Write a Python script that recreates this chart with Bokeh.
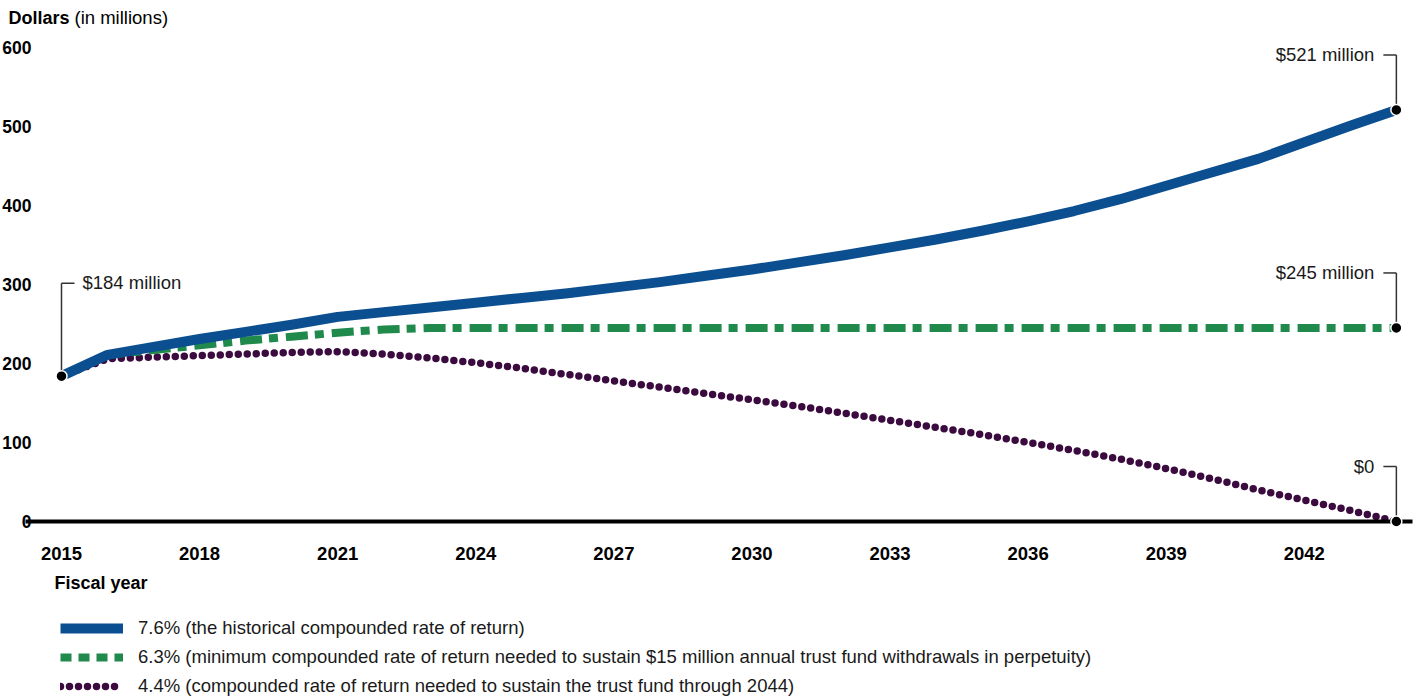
import numpy as np
from bokeh.plotting import figure
from bokeh.models import LinearAxis, FixedTicker, Range1d, Legend, LegendItem
from bokeh.core.properties import value
from bokeh.embed import file_html
from bokeh.resources import INLINE

# ---------------- data ----------------
years = [2015, 2016, 2017, 2018, 2019, 2020, 2021, 2022, 2023, 2024,
         2025, 2026, 2027, 2028, 2029, 2030, 2031, 2032, 2033, 2034,
         2035, 2036, 2037, 2038, 2039, 2040, 2041, 2042, 2043, 2044]
rate_76 = [184, 211, 221, 231, 240, 249, 259, 265, 271, 277,
           283, 289, 296, 303, 311, 319, 328, 337, 347, 357,
           368, 380, 393, 408, 425, 442, 459, 480, 501, 521]
rate_63 = [184, 211, 217, 223, 229, 234, 239, 243, 245, 245,
           245, 245, 245, 245, 245, 245, 245, 245, 245, 245,
           245, 245, 245, 245, 245, 245, 245, 245, 245, 245]
rate_44 = [184, 206, 208, 210, 212, 214, 215, 212, 207, 201,
           194, 186, 178, 170, 162, 154, 146, 137, 128, 119,
           110, 100, 90, 79, 67, 54, 40, 27, 14, 0]
x_ticks = [2015, 2018, 2021, 2024, 2027, 2030, 2033, 2036, 2039, 2042]
y_ticks = [0, 100, 200, 300, 400, 500, 600]
series_labels = [
    "7.6% (the historical compounded rate of return)",
    "6.3% (minimum compounded rate of return needed to sustain $15 million annual trust fund withdrawals in perpetuity)",
    "4.4% (compounded rate of return needed to sustain the trust fund through 2044)",
]
start_text = "$184 million"
end_texts = ["$521 million", "$245 million", "$0"]

# ---------------- styling / geometry ----------------
BLUE = "#0B4F91"
GREEN = "#1F8A4C"
PURPLE = "#3B0A3F"
FONT = value("Liberation Sans")
W, H = 1421, 698
PX_YR = 46.03
PX_M = 0.79
x_start = years[0] - 61 / PX_YR
x_end = x_start + W / PX_YR
y_end = 521 / PX_M
y_start = y_end - H / PX_M

p = figure(width=W, height=H, output_backend="svg", toolbar_location=None,
           x_axis_location=None, y_axis_location=None, min_border=0,
           x_range=Range1d(x_start, x_end), y_range=Range1d(y_start, y_end))
p.outline_line_color = None
p.background_fill_color = "white"
p.border_fill_color = "white"
p.grid.visible = False
p.xgrid.visible = False
p.ygrid.visible = False

# axes (fixed inside the frame)
xaxis = LinearAxis(fixed_location=0, ticker=FixedTicker(ticks=x_ticks),
                   bounds=(years[0] - 36 / PX_YR, years[-1] + 16 / PX_YR))
xaxis.axis_line_color = "black"
xaxis.axis_line_width = 4
xaxis.major_tick_line_color = None
xaxis.minor_tick_line_color = None
xaxis.major_label_standoff = 19
xaxis.major_label_text_font = "Liberation Sans"
xaxis.major_label_text_font_style = "bold"
xaxis.major_label_text_font_size = "18.5px"
xaxis.major_label_text_color = "black"
p.add_layout(xaxis, "below")

yaxis = LinearAxis(fixed_location=years[0] - 21 / PX_YR, ticker=FixedTicker(ticks=y_ticks))
yaxis.axis_line_color = None
yaxis.major_tick_line_color = None
yaxis.minor_tick_line_color = None
yaxis.major_label_standoff = 3
yaxis.major_label_text_font = "Liberation Sans"
yaxis.major_label_text_font_style = "bold"
yaxis.major_label_text_font_size = "17.5px"
yaxis.major_label_text_color = "black"
p.add_layout(yaxis, "left")

# series
r44 = p.line(years, rate_44, line_color=PURPLE, line_width=7.5, line_dash="0 9", line_cap="round")
r63 = p.line(years, rate_63, line_color=GREEN, line_width=8, line_dash="22 7 9 8")
r76 = p.line(years, rate_76, line_color=BLUE, line_width=10, line_join="round")

# legend-only glyph for the dashed series
r63_leg = p.line([np.nan], [np.nan], line_color=GREEN, line_width=8, line_dash="11 7")

# leader lines
lx0, ly0, lx1, ly1 = [], [], [], []
top = rate_76[0] + 93 / PX_M
lx0 += [years[0], years[0]]; ly0 += [rate_76[0], top]
lx1 += [years[0], years[0] + 13 / PX_YR]; ly1 += [top, top]
end_vals = [rate_76[-1], rate_63[-1], rate_44[-1]]
for v in end_vals:
    t = v + 55 / PX_M
    lx0 += [years[-1], years[-1] - 13 / PX_YR]; ly0 += [v, t]
    lx1 += [years[-1], years[-1]]; ly1 += [t, t]
p.segment(lx0, ly0, lx1, ly1, line_color="#333333", line_width=1.5)

dots = p.scatter([years[0]] + [years[-1]] * 3, [rate_76[0]] + end_vals, size=11,
                 fill_color="black", line_color="white", line_width=1.5)
dots.level = "overlay"

# annotation texts
p.text([years[0]], [rate_76[0]], text=[start_text], x_offset=21, y_offset=-94,
       text_font=FONT, text_font_size="18.5px", text_align="left", text_baseline="middle",
       text_color="#1a1a1a")
p.text([years[-1]] * 3, end_vals, text=end_texts, x_offset=-22, y_offset=-55,
       text_font=FONT, text_font_size="18.5px", text_align="right", text_baseline="middle",
       text_color="#1a1a1a")

# titles
p.text([x_start], [y_ticks[-1]], text=["Dollars"], x_offset=8, y_offset=-30, text_font=FONT,
       text_font_size="18px", text_font_style="bold", text_align="left",
       text_baseline="middle", text_color="black")
p.text([x_start], [y_ticks[-1]], text=["(in millions)"], x_offset=74, y_offset=-30,
       text_font=FONT, text_font_size="18.5px", text_align="left",
       text_baseline="middle", text_color="black")
p.text([years[0]], [0], text=["Fiscal year"], x_offset=-7, y_offset=61, text_font=FONT,
       text_font_size="18px", text_font_style="bold", text_align="left",
       text_baseline="middle", text_color="black")

legend = Legend(items=[LegendItem(label=series_labels[0], renderers=[r76]),
                       LegendItem(label=series_labels[1], renderers=[r63_leg]),
                       LegendItem(label=series_labels[2], renderers=[r44])],
                location=(60, 1), orientation="vertical", glyph_width=63, glyph_height=22,
                label_height=22, label_standoff=15, spacing=7, padding=0, margin=0,
                border_line_color=None, background_fill_alpha=0,
                label_text_font="Liberation Sans", label_text_font_size="18.5px",
                label_text_color="#1a1a1a")
p.add_layout(legend)

open("out.html", "w").write(file_html(p, INLINE))
